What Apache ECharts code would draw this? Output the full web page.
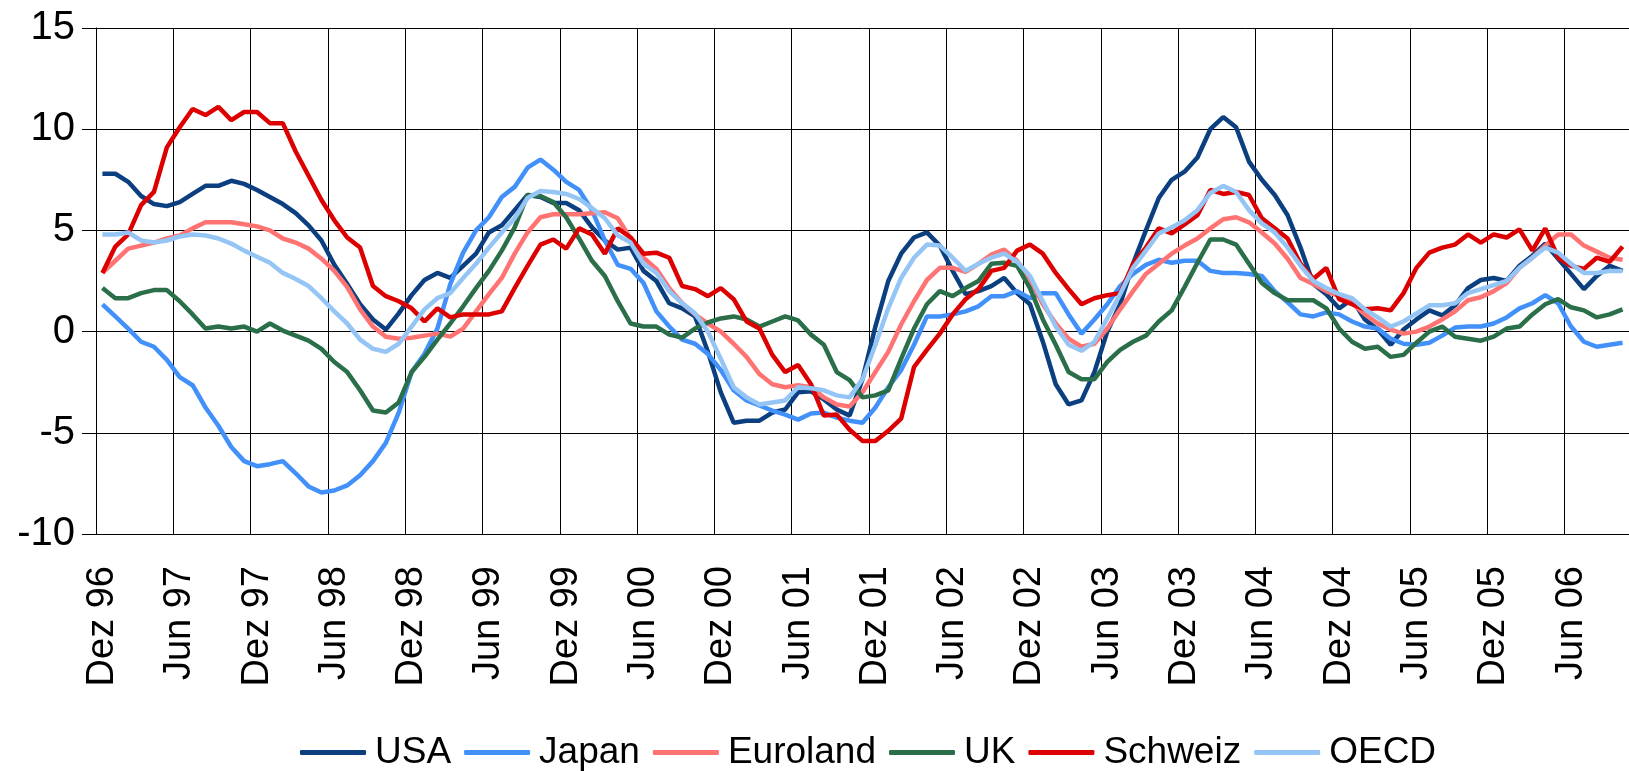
<!DOCTYPE html>
<html>
<head>
<meta charset="utf-8">
<script src="https://cdn.jsdelivr.net/npm/echarts@6/dist/echarts.min.js"></script>
<style>
  html, body { margin: 0; padding: 0; background: #fff; }
  #chart { width: 1629px; height: 771px; }
</style>
</head>
<body>
<div id="chart"></div>
<script>
// Monthly series, Dez 96 .. Okt 06 (values in %)
const MONTHS = ['Jan', 'Feb', 'Mrz', 'Apr', 'Mai', 'Jun', 'Jul', 'Aug', 'Sep', 'Okt', 'Nov', 'Dez'];
const START_YEAR = 1996;
const START_MONTH = 11; // Dez
const N_MONTHS = 119;

const categories = [];
for (let k = 0; k < N_MONTHS; k++) {
  const m = (START_MONTH + k) % 12;
  const y = START_YEAR + Math.floor((START_MONTH + k) / 12);
  categories.push(MONTHS[m] + ' ' + String(y % 100).padStart(2, '0'));
}

const usa = [
  7.8, 7.8, 7.4, 6.7, 6.3, 6.2, 6.4, 6.8, 7.2, 7.2, 7.45, 7.3,
  7.0, 6.65, 6.3, 5.85, 5.25, 4.5, 3.3, 2.35, 1.35, 0.6, 0.1, 0.9,
  1.8, 2.55, 2.9, 2.65, 3.25, 3.85, 4.9, 5.25, 6.0, 6.75, 6.65, 6.35,
  6.35, 6.0, 5.15, 4.5, 4.05, 4.15, 3.0, 2.5, 1.4, 1.15, 0.75, -1.0,
  -3.0, -4.5, -4.4, -4.4, -4.0, -3.85, -3.0, -2.95, -3.35, -3.85, -4.15, -2.35,
  0.25, 2.5, 3.85, 4.65, 4.9, 4.25, 3.0, 1.85, 2.0, 2.25, 2.65, 1.9,
  1.35, -0.5, -2.6, -3.6, -3.4, -2.0, 0.0, 1.35, 3.35, 5.0, 6.6, 7.5,
  7.9, 8.6, 10.0, 10.6, 10.1, 8.4, 7.5, 6.75, 5.75, 4.15, 2.35, 1.85,
  1.15, 1.6, 0.6, 0.1, -0.65, 0.1, 0.6, 1.05, 0.8, 1.3, 2.15, 2.55,
  2.65, 2.5, 3.25, 3.75, 4.35, 3.6, 2.85, 2.1, 2.75, 3.25, 3.0
];

const japan = [
  1.35, 0.75, 0.15, -0.5, -0.75, -1.4, -2.25, -2.65, -3.75, -4.65, -5.7, -6.4,
  -6.65, -6.55, -6.4, -7.0, -7.65, -7.95, -7.85, -7.6, -7.1, -6.4, -5.5, -4.0,
  -2.0, -1.1, 0.15, 2.35, 3.9, 5.0, 5.65, 6.65, 7.15, 8.1, 8.5, 8.0,
  7.4, 7.0, 6.0, 4.5, 3.3, 3.1, 2.4, 1.0, 0.25, -0.4, -0.6, -1.1,
  -1.9, -2.9, -3.4, -3.65, -3.9, -4.1, -4.35, -4.05, -4.0, -4.25, -4.4, -4.5,
  -3.75, -2.75, -1.9, -0.65, 0.75, 0.75, 0.85, 1.0, 1.25, 1.75, 1.75, 2.0,
  1.65, 1.9, 1.9, 0.85, -0.1, 0.6, 1.35, 2.25, 2.85, 3.3, 3.55, 3.4,
  3.5, 3.5, 3.0, 2.9, 2.9, 2.85, 2.75, 2.0, 1.45, 0.85, 0.75, 0.95,
  0.85, 0.5, 0.25, 0.15, -0.35, -0.6, -0.65, -0.55, -0.2, 0.2, 0.25, 0.25,
  0.4, 0.7, 1.15, 1.4, 1.8, 1.4, 0.25, -0.5, -0.75, -0.65, -0.55
];

const euroland = [
  2.9, 3.5, 4.1, 4.25, 4.4, 4.6, 4.75, 5.1, 5.4, 5.4, 5.4, 5.3,
  5.2, 5.0, 4.6, 4.4, 4.1, 3.6, 3.0, 2.2, 1.1, 0.25, -0.25, -0.35,
  -0.3, -0.2, -0.1, -0.25, 0.15, 1.0, 1.85, 2.65, 3.85, 4.9, 5.65, 5.8,
  5.8, 5.8, 5.85, 5.9, 5.6, 4.6, 3.65, 3.1, 2.15, 1.4, 0.85, 0.4,
  0.0, -0.6, -1.25, -2.1, -2.6, -2.75, -2.65, -2.75, -3.25, -3.6, -3.7, -3.0,
  -2.0, -1.0, 0.35, 1.5, 2.55, 3.15, 3.15, 2.95, 3.35, 3.8, 4.05, 3.5,
  2.6, 1.35, 0.4, -0.35, -0.75, -0.6, 0.15, 1.1, 2.0, 2.85, 3.35, 3.85,
  4.25, 4.6, 5.1, 5.55, 5.65, 5.4, 4.9, 4.35, 3.6, 2.65, 2.35, 2.0,
  1.75, 1.4, 0.85, 0.4, 0.1, -0.1, 0.0, 0.25, 0.6, 1.0, 1.55, 1.7,
  2.0, 2.4, 3.15, 3.65, 4.25, 4.8, 4.8, 4.25, 3.95, 3.65, 3.55
];

const uk = [
  2.15, 1.65, 1.65, 1.9, 2.05, 2.05, 1.5, 0.85, 0.15, 0.25, 0.15, 0.25,
  0.0, 0.4, 0.05, -0.2, -0.45, -0.85, -1.5, -2.0, -2.9, -3.9, -4.0, -3.5,
  -2.0, -1.25, -0.4, 0.4, 1.25, 2.15, 3.0, 4.0, 5.15, 6.75, 6.7, 6.4,
  5.65, 4.6, 3.5, 2.75, 1.5, 0.4, 0.25, 0.25, -0.15, -0.3, 0.15, 0.45,
  0.65, 0.75, 0.6, 0.25, 0.5, 0.75, 0.55, -0.15, -0.65, -2.0, -2.4, -3.25,
  -3.15, -2.9, -1.35, 0.15, 1.35, 2.0, 1.75, 2.15, 2.5, 3.35, 3.4, 3.25,
  2.15, 0.6, -0.65, -2.0, -2.35, -2.35, -1.5, -0.9, -0.5, -0.2, 0.5, 1.05,
  2.2, 3.4, 4.55, 4.55, 4.3, 3.35, 2.4, 1.9, 1.55, 1.55, 1.55, 1.15,
  0.15, -0.5, -0.85, -0.75, -1.25, -1.15, -0.55, 0.0, 0.25, -0.25, -0.35, -0.45,
  -0.25, 0.15, 0.25, 0.85, 1.35, 1.6, 1.2, 1.05, 0.7, 0.85, 1.1
];

const schweiz = [
  2.9, 4.2, 4.8, 6.25, 6.9, 9.1, 10.1, 11.0, 10.7, 11.1, 10.45, 10.85,
  10.85, 10.3, 10.3, 8.9, 7.7, 6.5, 5.5, 4.65, 4.15, 2.25, 1.75, 1.5,
  1.15, 0.5, 1.15, 0.7, 0.85, 0.85, 0.85, 1.0, 2.15, 3.25, 4.3, 4.55,
  4.1, 5.1, 4.8, 3.85, 5.1, 4.65, 3.85, 3.9, 3.65, 2.25, 2.1, 1.75,
  2.15, 1.6, 0.5, 0.15, -1.15, -2.0, -1.65, -2.6, -4.15, -4.1, -4.85, -5.4,
  -5.4, -4.9, -4.3, -1.75, -0.9, -0.1, 0.85, 1.6, 2.1, 3.0, 3.15, 4.0,
  4.3, 3.85, 2.9, 2.1, 1.35, 1.65, 1.8, 1.9, 3.35, 4.15, 5.1, 4.85,
  5.3, 5.75, 7.0, 6.8, 6.9, 6.75, 5.6, 5.1, 4.6, 3.35, 2.6, 3.15,
  1.6, 1.35, 1.1, 1.15, 1.05, 1.9, 3.15, 3.9, 4.15, 4.3, 4.8, 4.4,
  4.8, 4.65, 5.05, 4.0, 5.1, 3.65, 3.25, 3.1, 3.65, 3.45, 4.2
];

const oecd = [
  4.8, 4.8, 4.9, 4.5, 4.4, 4.5, 4.7, 4.8, 4.75, 4.6, 4.35, 4.0,
  3.7, 3.4, 2.9, 2.6, 2.25, 1.65, 1.0, 0.4, -0.4, -0.85, -1.0, -0.6,
  0.25, 1.1, 1.65, 1.9, 2.65, 3.35, 4.15, 4.9, 5.6, 6.6, 6.95, 6.9,
  6.8, 6.55, 6.1, 5.6, 4.75, 4.4, 3.35, 2.9, 2.0, 1.4, 0.9, 0.0,
  -1.35, -2.75, -3.25, -3.6, -3.5, -3.4, -2.75, -2.8, -2.9, -3.15, -3.25, -2.35,
  -0.65, 1.15, 2.65, 3.65, 4.3, 4.25, 3.65, 3.0, 3.35, 3.65, 3.85, 3.45,
  2.75, 1.5, 0.25, -0.65, -0.95, -0.5, 0.65, 1.85, 3.15, 4.0, 4.85, 5.15,
  5.5, 6.0, 6.85, 7.2, 6.9, 6.0, 5.35, 4.9, 4.15, 3.25, 2.5, 2.15,
  1.85, 1.65, 1.1, 0.7, 0.25, 0.5, 0.9, 1.3, 1.3, 1.4, 1.9, 2.1,
  2.3, 2.5, 3.15, 3.65, 4.15, 3.9, 3.35, 2.9, 2.9, 3.0, 3.0
];

const seriesNames = ['USA', 'Japan', 'Euroland', 'UK', 'Schweiz', 'OECD'];
const seriesData = [usa, japan, euroland, uk, schweiz, oecd];
const seriesColors = ['#0b3f7f', '#4291fa', '#ff7373', '#2a6f49', '#dc0000', '#95c5f5'];

const yTicks = { min: -10, max: 15, step: 5 };
const LABEL_EVERY = 6;

const FONT = "'Liberation Sans', Arial, sans-serif";
const chart = echarts.init(document.getElementById('chart'), null, { renderer: 'canvas' });

chart.setOption({
  animation: false,
  backgroundColor: '#ffffff',
  grid: { left: 96, top: 28, width: 1546, height: 506, containLabel: false },
  legend: {
    data: seriesNames,
    left: 300,
    top: 734,
    padding: 0,
    itemGap: 13,
    itemWidth: 66,
    itemHeight: 5,
    icon: 'roundRect',
    textStyle: { fontFamily: FONT, fontSize: 37, color: '#000', padding: [0, 0, 0, 4] }
  },
  xAxis: {
    type: 'category',
    data: categories,
    boundaryGap: true,
    axisLine: { show: true, onZero: false, lineStyle: { color: '#000', width: 1 } },
    axisTick: { show: false, interval: LABEL_EVERY - 1 },
    axisLabel: {
      interval: LABEL_EVERY - 1,
      rotate: 90,
      margin: 32,
      fontFamily: FONT,
      fontSize: 38,
      color: '#000'
    },
    splitLine: { show: true, interval: LABEL_EVERY - 1, lineStyle: { color: '#000', width: 1 } }
  },
  yAxis: {
    type: 'value',
    min: yTicks.min,
    max: yTicks.max,
    interval: yTicks.step,
    axisLine: { show: true, lineStyle: { color: '#000', width: 1 } },
    axisTick: { show: true, length: 14, lineStyle: { color: '#000', width: 1 } },
    axisLabel: { margin: 21, fontFamily: FONT, fontSize: 40, color: '#000' },
    splitLine: { show: true, lineStyle: { color: '#000', width: 1 } }
  },
  series: seriesNames.map((name, k) => ({
    name: name,
    type: 'line',
    data: seriesData[k],
    showSymbol: false,
    symbol: 'none',
    color: seriesColors[k],
    lineStyle: { color: seriesColors[k], width: 4.5 },
    emphasis: { disabled: true }
  }))
});
</script>
</body>
</html>
